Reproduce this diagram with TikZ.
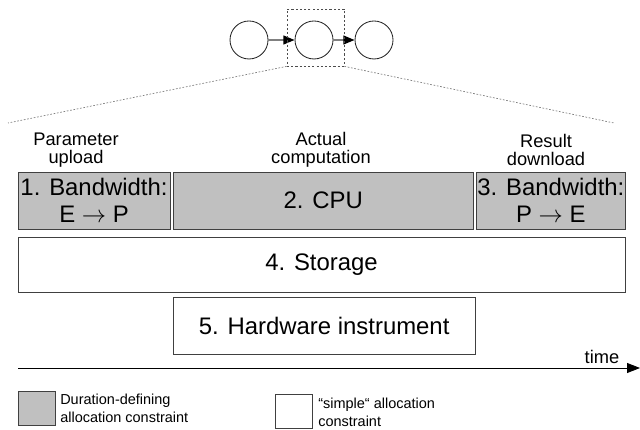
\documentclass[tikz,border=0pt]{standalone}
\usepackage{fontspec}
\setmainfont{Liberation Sans}
\usetikzlibrary{arrows.meta}

\definecolor{boxgray}{HTML}{C0C0C0}
\definecolor{edgegray}{HTML}{404040}

\begin{document}
\begin{tikzpicture}[
  state/.style={draw=black!85, line width=0.6pt, circle, minimum size=0.95cm, inner sep=0pt},
  flow/.style={draw=gray, line width=1.2pt, -{Triangle[length=0.28cm, width=0.22cm, color=black]}},
  zoomline/.style={draw=gray, line width=0.5pt, dash pattern=on 1.2pt off 1.2pt},
  phase/.style={align=center, inner sep=0pt, font=\fontsize{13}{12.8}\selectfont},
  cbox/.style={draw=edgegray, line width=0.7pt, fill=#1, inner sep=0pt, align=center, font=\fontsize{17}{19.5}\selectfont},
  cbox/.default=white,
  legbox/.style={draw=edgegray, line width=0.6pt, fill=#1, minimum width=0.925cm, minimum height=0.850cm, inner sep=0pt},
  legbox/.default=white,
  legtext/.style={anchor=west, align=left, inner sep=0pt, font=\fontsize{10.3}{12.8}\selectfont}
]
\useasboundingbox (0,0) rectangle (16,-10.750);
\node[state] (n1) at (6.225,-1.000) {};
\node[state] (n2) at (7.850,-1.000) {};
\node[state] (n3) at (9.350,-1.000) {};
\draw[flow] (n1) -- (n2);
\draw[flow] (n2) -- (n3);
\node[draw=black!70, dash pattern=on 1.5pt off 1.5pt, line width=0.5pt, minimum width=1.425cm, minimum height=1.425cm, inner sep=0pt] (zoom) at (7.888,-0.938) {};
\coordinate (zl) at (0.200,-3.075);
\coordinate (zr) at (15.350,-3.075);
\draw[zoomline] (zoom.south west) -- (zl);
\draw[zoomline] (zoom.south east) -- (zr);
\node[phase] (l1) at (1.900,-3.750) {Parameter\\upload};
\node[phase] (l2) at (8.025,-3.750) {Actual\\computation};
\node[phase] (l3) at (13.650,-3.750) {Result\\download};
\node[cbox=boxgray, minimum width=3.800cm, minimum height=1.425cm] (bw1) at (2.350,-5.013) {1. Bandwidth:\\E $\rightarrow$ P};
\node[cbox=boxgray, minimum width=7.500cm, minimum height=1.425cm] (cpu) at (8.083,-5.013) {2. CPU};
\node[cbox=boxgray, minimum width=3.708cm, minimum height=1.425cm] (bw2) at (13.771,-5.013) {3. Bandwidth:\\P $\rightarrow$ E};
\node[cbox, minimum width=15.175cm, minimum height=1.370cm] (store) at (8.038,-6.625) {4. Storage};
\node[cbox, minimum width=7.542cm, minimum height=1.417cm] (hw) at (8.104,-8.142) {5. Hardware instrument};
\coordinate (t0) at (0.450,-9.200);
\coordinate (t1) at (16.000,-9.200);
\draw[line width=0.6pt, -{Triangle[length=0.325cm, width=0.25cm]}] (t0) -- (t1);
\node[font=\fontsize{13}{15}\selectfont, inner sep=0pt] (tlabel) at (15.050,-8.925) {time};
\node[legbox=boxgray] (lg1) at (0.913,-10.200) {};
\node[legtext] (lt1) at (1.500,-10.200) {Duration-defining\\allocation constraint};
\node[legbox] (lg2) at (7.338,-10.275) {};
\node[legtext] (lt2) at (7.950,-10.300) {“simple“ allocation\\constraint};
\end{tikzpicture}
\end{document}
